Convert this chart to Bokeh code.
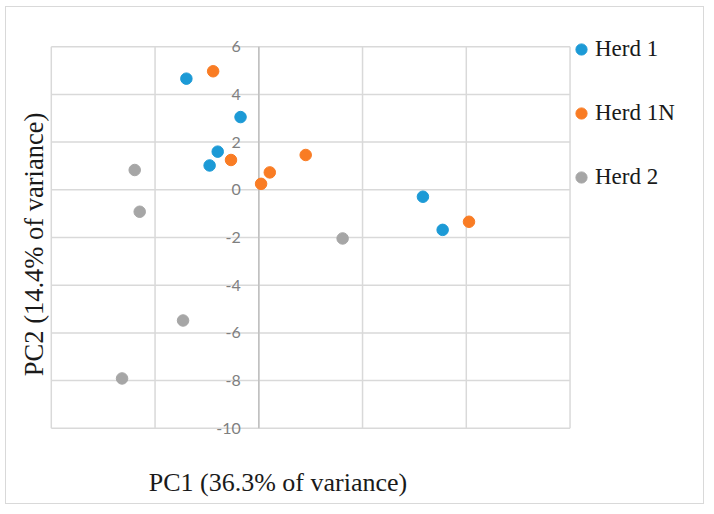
from bokeh.plotting import figure
from bokeh.models import Range1d, Label, Legend, LegendItem, ColumnDataSource
from bokeh.core.properties import value
from bokeh.embed import file_html
from bokeh.resources import INLINE
import math

# ---- data ----
herd1_pc1 = [-3.49, -0.88, -1.98, -2.37, 7.91, 8.86]
herd1_pc2 = [4.66, 3.05, 1.60, 1.02, -0.29, -1.68]
herd1n_pc1 = [-2.20, -1.34, 0.53, 0.11, 2.26, 10.13]
herd1n_pc2 = [4.97, 1.25, 0.73, 0.25, 1.46, -1.34]
herd2_pc1 = [-5.98, -5.74, 4.04, -3.65, -6.59]
herd2_pc2 = [0.83, -0.92, -2.04, -5.48, -7.91]
x_ticks = [-10, -5, 0, 5, 10, 15]
y_ticks = [-10, -8, -6, -4, -2, 0, 2, 4, 6]
series_names = ["Herd 1", "Herd 1N", "Herd 2"]
colors = ["#1C9AD6", "#F97C24", "#A6A6A6"]

W, H = 699, 498
# the frame fills the whole canvas; the chart area (-10..15, -10..6) sits inside it
p = figure(width=W, height=H, output_backend="svg", toolbar_location=None,
           x_range=Range1d(-12.159, 21.528), y_range=Range1d(-13.237, 7.644),
           min_border=0,
           styles={"border": "1px solid #d9d9d9", "margin-left": "5px", "margin-top": "6px"})
p.xaxis.visible = False
p.yaxis.visible = False
p.grid.visible = False
p.outline_line_color = None
p.background_fill_color = "white"
p.border_fill_color = "white"

# grid lines
p.segment(x0=x_ticks, x1=x_ticks, y0=[y_ticks[0]] * len(x_ticks), y1=[y_ticks[-1]] * len(x_ticks),
          line_color="#d9d9d9", line_width=1.5)
p.segment(x0=[x_ticks[0]] * len(y_ticks), x1=[x_ticks[-1]] * len(y_ticks), y0=y_ticks, y1=y_ticks,
          line_color="#d9d9d9", line_width=1.5)
# vertical axis line at x = 0
p.segment(x0=[0], x1=[0], y0=[y_ticks[0]], y1=[y_ticks[-1]], line_color="#bfbfbf", line_width=1.5)

# y tick labels along the centre axis
ysrc = ColumnDataSource(dict(x=[0] * len(y_ticks), y=y_ticks, t=[str(v) for v in y_ticks]))
p.text(x="x", y="y", text="t", source=ysrc, x_offset=-18, text_align="right",
       text_baseline="middle", text_font=value("Lato"), text_font_size="16px",
       text_color="#7f7f7f")

r1 = p.scatter(herd1_pc1, herd1_pc2, size=11.5, color=colors[0])
r2 = p.scatter(herd1n_pc1, herd1n_pc2, size=11.5, color=colors[1])
r3 = p.scatter(herd2_pc1, herd2_pc2, size=11.5, color=colors[2])

legend = Legend(items=[LegendItem(label=series_names[0], renderers=[r1]),
                       LegendItem(label=series_names[1], renderers=[r2]),
                       LegendItem(label=series_names[2], renderers=[r3])],
                location=(561, 314), padding=0, margin=0, spacing=36,
                glyph_width=28, glyph_height=28, label_height=28, label_standoff=0,
                label_text_font="Liberation Serif", label_text_font_size="23px",
                label_text_color="#1a1a1a", border_line_alpha=0, background_fill_alpha=0)
p.add_layout(legend)

p.add_layout(Label(x=0.925, y=-12.27, text="PC1 (36.3% of variance)", text_align="center",
                   text_baseline="middle", text_font="Liberation Serif", text_font_size="26px",
                   text_color="#1a1a1a"))
p.add_layout(Label(x=-10.81, y=-2.29, text="PC2 (14.4% of variance)", angle=math.pi / 2,
                   text_align="center", text_baseline="middle",
                   text_font="Liberation Serif", text_font_size="26.5px", text_color="#1a1a1a"))

open("out.html", "w").write(file_html(p, INLINE))
